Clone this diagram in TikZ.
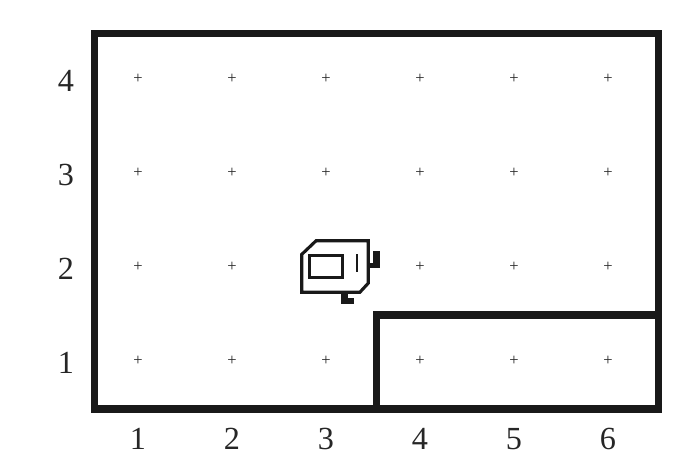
\documentclass[tikz,border=0pt]{standalone}
\usepackage{fontspec}
\setmainfont{Liberation Serif}
\usetikzlibrary{positioning}
\tikzset{
    wall/.style={line width=4.3pt, line cap=rect, black!90},
    gridmark/.style={inner sep=0pt, yshift=-0.9pt, font=\fontsize{10}{10}\selectfont, black!85},
    axislabel/.style={inner sep=0pt, font=\fontsize{19.5}{19.5}\selectfont, black!85},
    robotline/.style={line width=1.9pt, black!90, line join=miter}
}
\begin{document}
\begin{tikzpicture}[scale=2]
    \useasboundingbox (-0.468,-0.223) rectangle (6.957,4.819);

    % Outer walls
    \draw[wall] (0.537,0.468) rectangle (6.535,4.463);

    % Inner walls
    \draw[wall] (3.539,0.468) -- (3.539,1.468) -- (6.535,1.468);

    % Grid points
    \foreach \col/\row in {1/1,2/1,3/1,4/1,5/1,6/1,1/2,2/2,4/2,5/2,6/2,1/3,2/3,3/3,4/3,5/3,6/3,1/4,2/4,3/4,4/4,5/4,6/4} {
        \node[gridmark] (p\col\row) at (\col,\row) {+};
    }

    % Axis labels
    \foreach \col in {1,...,6} {
        \node[axislabel] (xlabel\col) at (\col,0.149) {\col};
    }
    \foreach \row in {1,...,4} {
        \node[axislabel] (ylabel\row) at (0.234,\row-0.04) {\row};
    }

    % Robot, in a frame centered on cell (3,2)
    \begin{scope}[shift={(3,2)}, scale=0.0106]
        \draw[robotline] (-24.3,10.7) -- (-10,24.3) -- (42.3,24.3) -- (42.3,-18.3) -- (34,-27.3) -- (-24.3,-27.3) -- cycle;
        \draw[robotline] (-16.7,-12.3) rectangle (16.7,9.3);
        \draw[robotline, line width=1.3pt] (30.7,10.7) -- (30.7,-6.7);

        % Side and bottom sensors
        \fill[black!90] (47.3,14.3) rectangle (54,-2.7);
        \fill[black!90] (41,2.3) rectangle (47.3,-2.7);
        \fill[black!90] (15,-26) rectangle (21.7,-39.3);
        \fill[black!90] (15,-33.3) rectangle (28,-39.3);
    \end{scope}
\end{tikzpicture}
\end{document}
